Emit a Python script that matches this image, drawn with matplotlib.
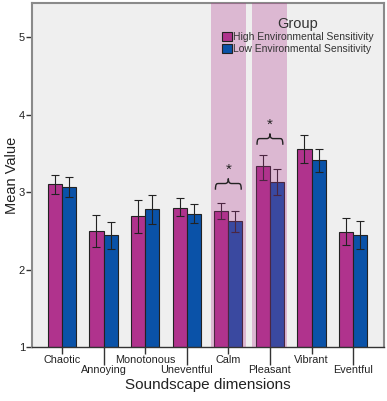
import matplotlib
matplotlib.use("Agg")
import matplotlib.pyplot as plt
import numpy as np
from matplotlib.path import Path
from matplotlib.patches import PathPatch, Patch

plt.rcParams['font.family'] = ['Liberation Sans', 'DejaVu Sans']

categories = ["Chaotic", "Annoying", "Monotonous", "Uneventful", "Calm", "Pleasant", "Vibrant", "Eventful"]
high_mean = [3.10, 2.50, 2.69, 2.80, 2.76, 3.33, 3.56, 2.49]
high_lo = [2.98, 2.29, 2.47, 2.69, 2.65, 3.16, 3.37, 2.31]
high_hi = [3.22, 2.70, 2.90, 2.92, 2.86, 3.48, 3.74, 2.66]
low_mean = [3.07, 2.45, 2.78, 2.72, 2.63, 3.13, 3.42, 2.45]
low_lo = [2.94, 2.26, 2.59, 2.60, 2.49, 2.96, 3.26, 2.26]
low_hi = [3.20, 2.61, 2.96, 2.84, 2.76, 3.30, 3.56, 2.63]
significant = ["Calm", "Pleasant"]
brace_y = [3.11, 3.69]
group_labels = ["High Environmental Sensitivity", "Low Environmental Sensitivity"]

c_high = "#B0338D"
c_low = "#0A52A8"

fig = plt.figure(figsize=(3.87, 4.01), dpi=100)
ax = fig.add_axes([0.0827, 0.1347, 0.9093, 0.8578])
ax.set_facecolor("#EFEFEF")

x = np.arange(len(categories))
w = 0.34
hm = np.array(high_mean); lm = np.array(low_mean)
ax.bar(x - w/2, hm - 1, w, bottom=1, color=c_high, edgecolor="#222222", linewidth=0.8, zorder=2)
ax.bar(x + w/2, lm - 1, w, bottom=1, color=c_low, edgecolor="#222222", linewidth=0.8, zorder=2)
ax.errorbar(x - w/2, hm, yerr=[hm - np.array(high_lo), np.array(high_hi) - hm], fmt='none',
            ecolor="#222222", elinewidth=0.8, capsize=3, capthick=0.8, zorder=3)
ax.errorbar(x + w/2, lm, yerr=[lm - np.array(low_lo), np.array(low_hi) - lm], fmt='none',
            ecolor="#222222", elinewidth=0.8, capsize=3, capthick=0.8, zorder=3)

# shaded significant regions and braces
for name, by in zip(significant, brace_y):
    i = categories.index(name)
    ax.axvspan(i - 0.42, i + 0.42, color=c_high, alpha=0.29, lw=0, zorder=4)
    hw = 0.31
    h = 0.08
    x0, x1, xc = i - hw, i + hw, i
    verts = [
        (x0, by - h),
        (x0, by), (x0 + 0.03, by), (x0 + 0.08, by),
        (xc - 0.08, by),
        (xc - 0.02, by), (xc, by + h * 0.3), (xc, by + h * 0.8),
        (xc, by + h * 0.3), (xc + 0.02, by), (xc + 0.08, by),
        (x1 - 0.08, by),
        (x1 - 0.03, by), (x1, by), (x1, by - h),
    ]
    codes = [Path.MOVETO,
             Path.CURVE4, Path.CURVE4, Path.CURVE4,
             Path.LINETO,
             Path.CURVE4, Path.CURVE4, Path.CURVE4,
             Path.CURVE4, Path.CURVE4, Path.CURVE4,
             Path.LINETO,
             Path.CURVE4, Path.CURVE4, Path.CURVE4]
    ax.add_patch(PathPatch(Path(verts, codes), fill=False, edgecolor="#222222", lw=1.0, zorder=5))
    ax.text(xc, by + 0.09, "*", ha="center", va="bottom", fontsize=11, color="#222222", zorder=5)

ax.set_xlim(-0.72, 7.74)
ax.set_ylim(1, 5.44)
ax.set_yticks([1, 2, 3, 4, 5])
ax.set_yticklabels(["1", "2", "3", "4", "5"], fontsize=8, color="#222222")
ax.tick_params(axis='y', length=4, width=1, color="#333333", pad=1)

ax.set_xticks(x[0::2])
ax.set_xticklabels(categories[0::2], fontsize=7.8, color="#222222")
ax.set_xticks(x[1::2], minor=True)
ax.set_xticklabels(categories[1::2], minor=True, fontsize=7.8, color="#222222")
ax.tick_params(axis='x', which='major', length=5, width=1, color="#333333", pad=1)
ax.tick_params(axis='x', which='minor', length=13, width=1, color="#333333", pad=0)

for s in ax.spines.values():
    s.set_color("#8A8A8A")
    s.set_linewidth(1.5)
ax.spines['bottom'].set_color("#333333")
ax.spines['bottom'].set_linewidth(1)

ax.set_ylabel("Mean Value", fontsize=10.5, color="#222222", labelpad=0)
ax.set_xlabel("Soundscape dimensions", fontsize=11, color="#222222", labelpad=2)

handles = [Patch(facecolor=c_high, edgecolor="#222222", lw=0.8),
           Patch(facecolor=c_low, edgecolor="#222222", lw=0.8)]
leg = ax.legend(handles, group_labels, title="Group", loc="upper right",
                bbox_to_anchor=(0.995, 0.985), frameon=False, fontsize=7.5,
                title_fontsize=10.5, handlelength=0.9, handleheight=1.0,
                handletextpad=0.15, labelspacing=0.15, borderpad=0.3)
for t in leg.get_texts():
    t.set_color("#333333")
leg.get_title().set_color("#333333")

fig.savefig("out.png", dpi=100)
